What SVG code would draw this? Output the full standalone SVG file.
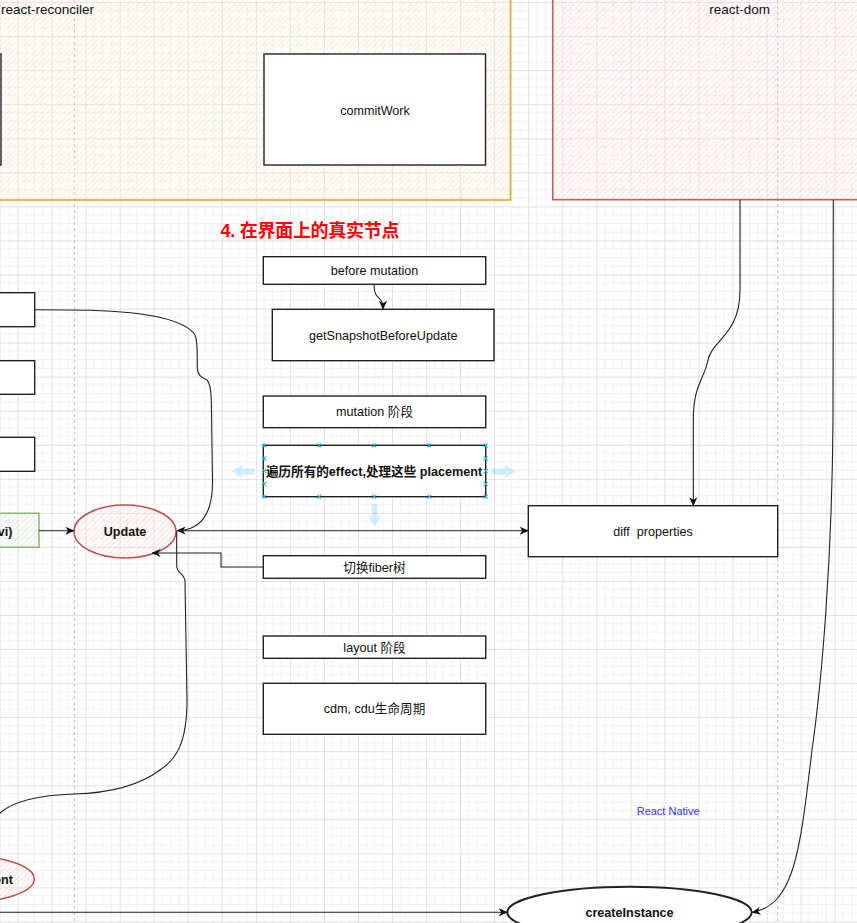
<svg xmlns="http://www.w3.org/2000/svg" width="857" height="923" viewBox="0 0 857 923">
<defs>
<pattern id="grid" patternUnits="userSpaceOnUse" x="17.5" y="2.1" width="34.05" height="34.05">
<path d="M8.51,0V34.05M17.03,0V34.05M25.54,0V34.05M0,8.51H34.05M0,17.03H34.05M0,25.54H34.05" stroke="#f1f1f1" stroke-width="1" fill="none"/>
<path d="M0.5,0V34.05M0,0.5H34.05" stroke="#e1e1e1" stroke-width="1" fill="none"/>
</pattern>
<pattern id="hatchO" patternUnits="userSpaceOnUse" width="4" height="4" patternTransform="rotate(45)">
<line x1="1" y1="0" x2="1" y2="4" stroke="#fde9d2" stroke-width="1"/>
</pattern>
<pattern id="hatchR" patternUnits="userSpaceOnUse" width="4" height="4" patternTransform="rotate(45)">
<line x1="1" y1="0" x2="1" y2="4" stroke="#fadcda" stroke-width="1"/>
</pattern>
<pattern id="hatchG" patternUnits="userSpaceOnUse" width="4" height="4" patternTransform="rotate(45)">
<line x1="1" y1="0" x2="1" y2="4" stroke="#dcecdb" stroke-width="1"/>
</pattern>
<marker id="arr" markerUnits="userSpaceOnUse" markerWidth="9" markerHeight="9" viewBox="0 0 10 10" refX="9.5" refY="5" orient="auto">
<path d="M0,0.5 L10,5 L0,9.5 L2.8,5 z" fill="#111"/>
</marker>
</defs>
<style>
.box{fill:#fff;stroke:#222;stroke-width:1.4}
.t{font-family:"Liberation Sans","Noto Sans CJK SC",Arial,sans-serif;font-size:12.6px;fill:#111;text-anchor:middle}
.b{font-weight:bold}
.edge{fill:none;stroke:#222;stroke-width:1.1}
.dash{stroke:#bdbdbd;stroke-width:1;stroke-dasharray:3 3}
.h{stroke:#29b6f2;stroke-width:1.1;fill:none}
.ha{fill:#29b6f2;fill-opacity:0.2}
</style>
<rect width="857" height="923" fill="#fff"/>
<rect width="857" height="923" fill="url(#grid)"/>
<g id="swimlane-lines">
<line class="dash" x1="74.3" y1="0" x2="74.3" y2="923"/>
<line class="dash" x1="777.7" y1="0" x2="777.7" y2="923"/>
</g>
<g id="react-reconciler">
<rect x="-20" y="-20" width="530.5" height="220" fill="url(#hatchO)" stroke="#dfa62c" stroke-width="1.6"/>
<text class="t" x="1" y="14" style="text-anchor:start;font-size:13.5px">react-reconciler</text>
</g>
<g id="react-dom">
<rect x="552.7" y="-20" width="330" height="219.7" fill="url(#hatchR)" stroke="#c0605a" stroke-width="1.6"/>
<text class="t" x="739.7" y="14" style="font-size:13.5px">react-dom</text>
</g>
<g id="left-box-top"><rect class="box" x="-100" y="54" width="101" height="111"/></g>
<g id="commitWork">
<rect class="box" x="264" y="54" width="221.5" height="111"/>
<text class="t" x="375" y="114.5">commitWork</text>
</g>
<g id="title">
<text x="220.5" y="236.5" textLength="179" lengthAdjust="spacing" style="font-family:'Liberation Sans','Noto Sans CJK SC',sans-serif;font-size:18px;font-weight:bold;fill:#ff0000">4. 在界面上的真实节点</text>
</g>
<g id="left-box-1"><rect class="box" x="-100" y="292.7" width="134.7" height="34"/></g>
<g id="left-box-2"><rect class="box" x="-100" y="360.7" width="134.7" height="33.6"/></g>
<g id="left-box-3"><rect class="box" x="-100" y="437.3" width="134.7" height="34"/></g>
<g id="before-mutation">
<rect class="box" x="263.3" y="256.7" width="222.4" height="27.6"/>
<text class="t" x="374.5" y="275">before mutation</text>
</g>
<g id="getSnapshotBeforeUpdate">
<rect class="box" x="272.3" y="309.3" width="221.7" height="51.4"/>
<text class="t" x="383.2" y="339.7">getSnapshotBeforeUpdate</text>
</g>
<g id="mutation-phase">
<rect class="box" x="263.3" y="396" width="222.4" height="31.7"/>
<text class="t" x="374.5" y="416.4">mutation 阶段</text>
</g>
<g id="traverse-effects">
<rect class="box" x="263.3" y="445.3" width="222.4" height="51.4"/>
<text class="t b" x="374" y="475.5">遍历所有的effect,处理这些 placement</text>
<path class="h" d="M262.3,443.3l4,4m0,-4l-4,4M317.3,443.3l4,4m0,-4l-4,4M372.3,443.3l4,4m0,-4l-4,4M427.3,443.3l4,4m0,-4l-4,4M483.7,443.3l4,4m0,-4l-4,4M262.3,494.7l4,4m0,-4l-4,4M317.3,494.7l4,4m0,-4l-4,4M372.3,494.7l4,4m0,-4l-4,4M427.3,494.7l4,4m0,-4l-4,4M483.7,494.7l4,4m0,-4l-4,4M262.3,456.3l4,4m0,-4l-4,4M262.3,469l4,4m0,-4l-4,4M262.3,482l4,4m0,-4l-4,4M483.7,456.3l4,4m0,-4l-4,4M483.7,469l4,4m0,-4l-4,4M483.7,482l4,4m0,-4l-4,4"/>
<polygon class="ha" points="255,468.5 242,468.5 242,465 231.7,471.5 242,478 242,474.5 255,474.5"/>
<polygon class="ha" points="491.7,468.5 505,468.5 505,465 516,471.5 505,478 505,474.5 491.7,474.5"/>
<polygon class="ha" points="371.5,504 371.5,516 368,516 374.5,526.7 381,516 377.5,516 377.5,504"/>
</g>
<g id="vi-box">
<rect x="-100" y="513.3" width="139" height="34" fill="url(#hatchG)" stroke="#82b366" stroke-width="1.4"/>
<text class="t b" x="12.5" y="535.5" style="text-anchor:end">vi)</text>
</g>
<g id="Update">
<ellipse cx="125" cy="531.5" rx="51" ry="26.5" fill="url(#hatchR)" stroke="#b85450" stroke-width="1.5"/>
<text class="t b" x="125" y="535.5">Update</text>
</g>
<g id="switch-fiber">
<rect class="box" x="263.3" y="555.7" width="222.4" height="22.6"/>
<text class="t" x="374.5" y="571.6">切换fiber树</text>
</g>
<g id="layout-phase">
<rect class="box" x="263.3" y="636" width="222.4" height="22.3"/>
<text class="t" x="374.5" y="651.7">layout 阶段</text>
</g>
<g id="cdm-cdu">
<rect class="box" x="263.3" y="683.3" width="222.4" height="51"/>
<text class="t" x="374.5" y="713.3">cdm, cdu生命周期</text>
</g>
<g id="diff-properties">
<rect class="box" x="528.3" y="505.7" width="249.4" height="51"/>
<text class="t" x="653" y="535.7" xml:space="preserve">diff  properties</text>
</g>
<g id="react-native-label">
<text x="636.7" y="815" style="font-family:'Liberation Sans',Arial,sans-serif;font-size:11px;fill:#3333ff">React Native</text>
</g>
<g id="ent">
<ellipse cx="-40" cy="879" rx="74.3" ry="24" fill="url(#hatchR)" stroke="#b85450" stroke-width="1.5"/>
<text class="t b" x="13" y="883.5" style="text-anchor:end">ent</text>
</g>
<g id="createInstance">
<ellipse cx="629.5" cy="912.3" rx="122.2" ry="25.6" fill="#fff" stroke="#222" stroke-width="1.9"/>
<text class="t b" x="629.5" y="916.7">createInstance</text>
</g>
<g id="connectors">
<path class="edge" marker-end="url(#arr)" d="M374,284.3 C374,302 383,294 383,309.3"/>
<path class="edge" marker-end="url(#arr)" d="M34.7,309.7 L90,310.3 C150,312 185,320 195,335 C198,342 197,350 197.3,368 C197.5,376 203,378 207,380 C210,383 211,390 211.3,400 L212.5,480 C213,515 200,530.5 177,530.5"/>
<path class="edge" marker-end="url(#arr)" d="M177,530.7 L528.3,530.7"/>
<path class="edge" marker-end="url(#arr)" d="M39,530.7 L74,530.7"/>
<path class="edge" marker-end="url(#arr)" d="M263.3,567 L221,567 L221,553 L152,553"/>
<path class="edge" d="M176.7,531 L176.7,566 C176.7,574 185,573 185,582 L187,700 C187,745 175,760 160,770 C140,785 110,793 74,794 C40,795 15,800 0,813 L-20,840"/>
<path class="edge" marker-end="url(#arr)" d="M740,199.7 L740,290 C740,335 712,340 708,360 C704,380 693.3,385 693.3,420 L693.3,505.7"/>
<path class="edge" marker-end="url(#arr)" d="M833.3,199.7 L833,420 C832,560 822,680 812,750 C800,850 795,905 752,912.3"/>
<path class="edge" marker-end="url(#arr)" d="M-10,912.3 L507.3,912.3"/>
</g>
</svg>
